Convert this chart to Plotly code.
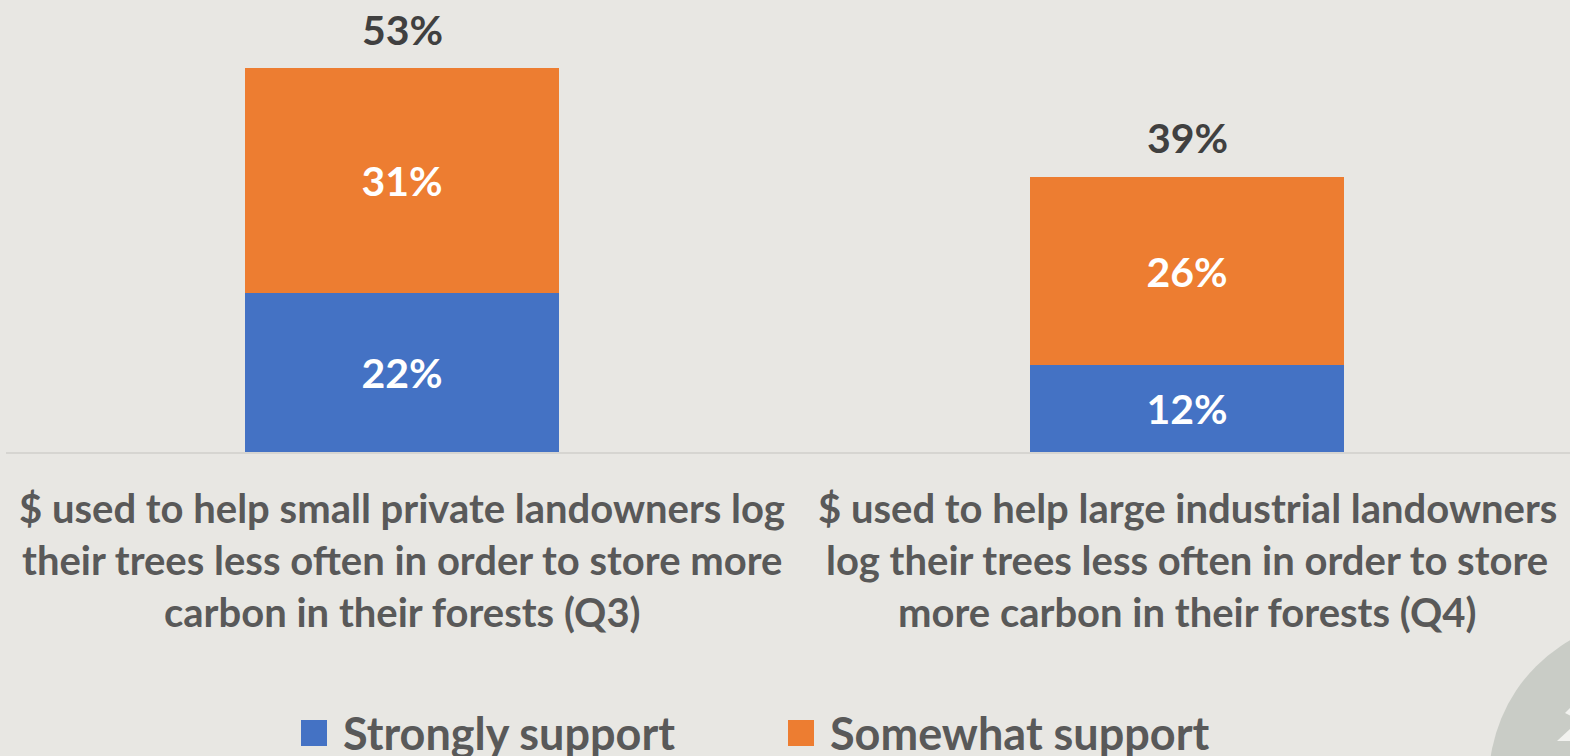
import plotly.graph_objects as go

# Survey results: share of respondents supporting each use of funds
category_lines = [
    ["$ used to help small private landowners log",
     "their trees less often in order to store more",
     "carbon in their forests (Q3)"],
    ["$ used to help large industrial landowners",
     "log their trees less often in order to store",
     "more carbon in their forests (Q4)"],
]
strongly_support = [22, 12]
somewhat_support = [31, 26]
total_support = [53, 39]

series_names = ["Strongly support", "Somewhat support"]
series_colors = ["#4472C4", "#ED7D31"]

BG = "#E8E7E3"
FONT = "Lato"
W, H = 1570, 756
ML, MR, MT, MB = 6, 0, 0, 304
PW, PH = W - ML - MR, H - MT - MB
PX_PER_UNIT_X = 785.0
PX_PER_PCT = 7.24

x_idx = list(range(len(category_lines)))
x0 = -(402 - ML) / PX_PER_UNIT_X
x1 = x0 + PW / PX_PER_UNIT_X
y_max = PH / PX_PER_PCT

fig = go.Figure()
for name, vals, col in zip(series_names, [strongly_support, somewhat_support], series_colors):
    fig.add_trace(go.Bar(
        x=x_idx, y=vals, name=name, width=0.4,
        marker=dict(color=col, line=dict(width=0)),
        text=[f"{v}%" for v in vals], textposition="inside",
        insidetextanchor="middle",
        textfont=dict(family=FONT, size=41, color="white", weight="bold"),
        showlegend=False, hoverinfo="skip",
    ))

annotations = []
# totals above each stack
for i, tot in enumerate(total_support):
    top = strongly_support[i] + somewhat_support[i]
    annotations.append(dict(
        x=i, y=top, xref="x", yref="y", text=f"<b>{tot}%</b>", showarrow=False,
        yanchor="middle", yshift=39,
        font=dict(family=FONT, size=41, color="#404040"),
    ))

# category labels under the axis, one annotation per line
line_centers_px = [508, 560, 612]
for i, lines in enumerate(category_lines):
    for ln, py in zip(lines, line_centers_px):
        annotations.append(dict(
            x=i, y=(PH - py) / PH, xref="x", yref="paper", text=f"<b>{ln}</b>",
            showarrow=False, yanchor="middle", xanchor="center",
            font=dict(family=FONT, size=40, color="#595959"),
        ))

def px_x(px):
    return (px - ML) / PW

def px_y(py):
    return (PH - py) / PH

shapes = []
# legend swatches and labels
legend_items = [(301, 341), (788, 828)]
for (sx, tx), name, col in zip(legend_items, series_names, series_colors):
    shapes.append(dict(type="rect", xref="paper", yref="paper",
                       x0=px_x(sx), x1=px_x(sx + 26), y0=px_y(720), y1=px_y(746),
                       fillcolor=col, line=dict(width=0)))
    annotations.append(dict(
        x=px_x(tx), y=px_y(733), xref="paper", yref="paper", text=f"<b>{name}</b>",
        showarrow=False, xanchor="left", yanchor="middle",
        font=dict(family=FONT, size=45, color="#595959"),
    ))

# decorative circle in the lower right corner, with a white glyph cut into it
shapes.append(dict(type="circle", xref="paper", yref="paper", layer="below",
                   x0=px_x(1489), x1=px_x(1811), y0=px_y(941), y1=px_y(619),
                   fillcolor="#C9CCC6", line=dict(width=0)))

def glyph(points):
    d = "M" + " L".join(f"{px_x(a):.5f},{px_y(b):.5f}" for a, b in points) + " Z"
    return dict(type="path", xref="paper", yref="paper", layer="below", path=d,
                fillcolor="#F2F2EF", line=dict(width=0))

shapes.append(glyph([(1565, 713), (1571, 707), (1571, 716)]))
shapes.append(glyph([(1557, 741), (1571, 728), (1571, 741)]))

fig.update_layout(
    width=W, height=H,
    margin=dict(l=ML, r=MR, t=MT, b=MB),
    paper_bgcolor=BG, plot_bgcolor=BG,
    barmode="stack", bargap=0,
    xaxis=dict(range=[x0, x1], showticklabels=False, showgrid=False, zeroline=False,
               showline=True, linecolor="#D6D5D1", linewidth=2, ticks=""),
    yaxis=dict(range=[0, y_max], visible=False),
    annotations=annotations, shapes=shapes,
    uniformtext=dict(mode=False),
)

fig.write_html("out.html")
